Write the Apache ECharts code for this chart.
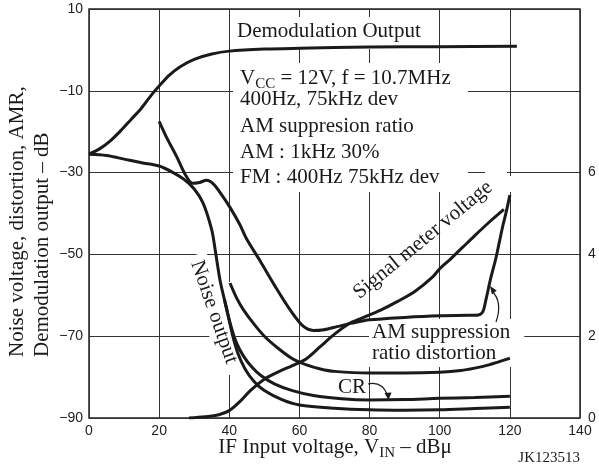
<!DOCTYPE html>
<html>
<head>
<meta charset="utf-8">
<script src="https://cdn.jsdelivr.net/npm/echarts@6.0.0/dist/echarts.min.js"></script>
<style>
html, body { margin: 0; padding: 0; background: #fff; }
#chart { width: 599px; height: 472px; }
</style>
</head>
<body>
<div id="chart"></div>
<script>
// x ticks / y ticks
var xTicks = [0, 20, 40, 60, 80, 100, 120, 140];
var yTicksLeft = [-90, -70, -50, -30, -10, 10];
var yTicksRight = [0, 2, 4, 6];

// Demodulation output (dB)
var demodX = [0, 3, 6, 9, 12, 15, 18, 20, 23, 26, 30, 35, 40, 50, 60, 80, 100, 122];
var demodY = [-25.5, -24.2, -22.3, -19.8, -17, -14.2, -10.8, -8.8, -6.1, -4.1, -2.3, -1.0, -0.3, 0.2, 0.4, 0.7, 0.8, 0.9];

// Noise output (dB)
var noiseX = [0, 5, 10, 15, 20, 24, 27, 30, 32.5, 35, 36, 37.4, 39.3, 41, 42.5, 44.5, 47, 50, 55, 60, 70, 80, 90, 100, 110, 120];
var noiseY = [-25.5, -25.8, -26.7, -27.6, -28.4, -30, -31.6, -34, -37.4, -44, -49, -56.5, -63.5, -70, -74.3, -78, -81, -83.3, -85.5, -86.8, -87.6, -88, -88.1, -88, -87.7, -87.4];

// CR (dB)
var crX = [38.6, 40.3, 42, 44, 46.5, 49, 53, 58, 64, 72, 80, 90, 100, 110, 120];
var crY = [-61, -67, -71.5, -74.8, -77.6, -79.6, -81.7, -83.3, -84.5, -85.3, -85.6, -85.5, -85.2, -85, -84.7];

// AM suppression ratio distortion (dB)
var distX = [40.2, 42, 44, 47, 50, 54, 58, 62, 66, 70, 80, 90, 100, 106, 110, 114, 117, 120];
var distY = [-57, -60.5, -63.5, -67, -70, -73, -75.5, -77, -78, -78.6, -79, -79, -78.8, -78.4, -77.8, -77, -76.2, -75.4];

// AM suppression ratio (dB)
var amX = [20, 22, 25, 27.4, 29.5, 31.5, 33.5, 35.5, 37.5, 40.2, 43, 45, 48.8, 53, 57.3, 61, 64, 67, 71, 75, 80, 90, 100, 108, 111, 112.3, 113.2, 114.5, 116, 117, 118, 119, 120];
var amY = [-17.5, -21.2, -26.1, -30.4, -32.6, -32.4, -31.9, -32.8, -35, -38.5, -42.7, -46.3, -51.6, -57.7, -63.5, -67.5, -68.6, -68.4, -67.6, -66.8, -66, -65.4, -65, -64.9, -64.8, -64, -61, -56, -51, -47, -43, -39.5, -35.5];

// Signal meter voltage (V, right axis)
var meterX = [28.5, 33, 37, 40, 43, 46, 50, 54, 58, 62, 66, 70, 74, 78, 83, 88, 93, 98, 100, 103, 106.5, 110, 114, 118.3];
var meterV = [0, 0.03, 0.08, 0.18, 0.4, 0.67, 0.95, 1.13, 1.28, 1.45, 1.75, 2.05, 2.3, 2.45, 2.63, 2.85, 3.1, 3.45, 3.65, 3.88, 4.17, 4.46, 4.78, 5.1];

function zip(xs, ys) {
    return xs.map(function (x, i) { return [x, ys[i]]; });
}

var serif = 'Liberation Serif';
var sans = 'Liberation Sans';
var ink = '#1a1a1a';

function curve(name, xs, ys, axis) {
    return {
        name: name,
        type: 'line',
        yAxisIndex: axis || 0,
        data: zip(xs, ys),
        symbol: 'none',
        smooth: 0.3,
        lineStyle: { color: ink, width: 3 },
        z: 3
    };
}

var chart = echarts.init(document.getElementById('chart'));

var option = {
    animation: false,
    backgroundColor: '#fff',
    grid: {
        left: 89, right: 19, top: 9, bottom: 54,
        show: true, borderColor: '#222', borderWidth: 1.5
    },
    xAxis: {
        type: 'value',
        min: xTicks[0], max: xTicks[xTicks.length - 1], interval: 20,
        axisLine: { show: false },
        axisTick: { show: false },
        axisLabel: { color: '#222', fontFamily: sans, fontSize: 14, margin: 6 },
        splitLine: { show: true, lineStyle: { color: '#333', width: 1 } }
    },
    yAxis: [
        {
            type: 'value', position: 'left',
            min: yTicksLeft[0], max: yTicksLeft[yTicksLeft.length - 1], interval: 20,
            axisLine: { show: false },
            axisTick: { show: false },
            axisLabel: {
                color: '#222', fontFamily: sans, fontSize: 14, margin: 6,
                formatter: function (v) { return String(v).replace('-', '\u2212'); }
            },
            splitLine: { show: true, lineStyle: { color: '#333', width: 1 } }
        },
        {
            type: 'value', position: 'right',
            min: 0, max: 10, interval: 2,
            axisLine: { show: false },
            axisTick: { show: false },
            axisLabel: {
                color: '#222', fontFamily: sans, fontSize: 14, margin: 8,
                formatter: function (v) { return yTicksRight.indexOf(v) >= 0 ? String(v) : ''; }
            },
            splitLine: { show: false }
        }
    ],
    series: [
        curve('Demodulation Output', demodX, demodY),
        curve('Noise output', noiseX, noiseY),
        curve('CR', crX, crY),
        curve('AM suppression ratio distortion', distX, distY),
        curve('AM suppression ratio', amX, amY),
        curve('Signal meter voltage', meterX, meterV, 1)
    ]
};
chart.setOption(option);

var txt = { fontFamily: serif, fontSize: 21, fill: ink };
function label(x, y, text, extra) {
    var style = Object.assign({ text: text, align: 'left', verticalAlign: 'middle' }, txt, extra || {});
    return { type: 'text', x: x, y: y, z: 2, style: style };
}
function mask(x, y, w, h) {
    return { type: 'rect', z: 1, shape: { x: x, y: y, width: w, height: h }, style: { fill: '#fff' } };
}
var subRich = {
    n: { fontFamily: serif, fontSize: 21, lineHeight: 24, verticalAlign: 'top', fill: ink },
    s: { fontFamily: serif, fontSize: 15, lineHeight: 15, verticalAlign: 'bottom', fill: ink }
};

chart.setOption({
    graphic: { elements: [
        // white boxes that break the grid behind the notes
        mask(233, 17, 197, 32),
        mask(233, 63, 235, 129),
        mask(224, 282, 10, 93),
        mask(485, 169, 22, 8),
        mask(507, 176, 6, 16),

        label(237, 31, 'Demodulation Output'),
        label(240, 80, '{n|V}{s|CC}{n| = 12V, f = 10.7MHz}', { rich: subRich }),
        label(240, 99, '400Hz, 75kHz dev'),
        label(240, 126, 'AM suppresion ratio'),
        label(240, 152.5, 'AM : 1kHz 30%'),
        label(240, 177, 'FM : 400Hz 75kHz dev'),

        { type: 'text', x: 214, y: 312, z: 2, rotation: -1.234,
          style: Object.assign({ text: 'Noise output', align: 'center', verticalAlign: 'middle',
                                 backgroundColor: '#fff', padding: [2, 6] }, txt) },
        { type: 'text', x: 423, y: 240, z: 2, rotation: 0.69,
          style: Object.assign({ text: 'Signal meter voltage', align: 'center', verticalAlign: 'middle' }, txt) },

        label(369, 343, 'AM suppression\nratio distortion',
              { lineHeight: 21, backgroundColor: '#fff', padding: [3, 14, 3, 3] }),
        label(335, 387, 'CR', { backgroundColor: '#fff', padding: [1, 3] }),

        // arrows
        { type: 'bezierCurve', z: 2, shape: { x1: 496, y1: 322, cpx1: 503, cpy1: 302, x2: 492, y2: 291 },
          style: { stroke: ink, lineWidth: 1.2, fill: null } },
        { type: 'polygon', z: 2, shape: { points: [[490, 286], [496.7, 290.6], [491.9, 294.4]] },
          style: { fill: ink } },
        { type: 'bezierCurve', z: 2, shape: { x1: 368, y1: 384, cpx1: 382, cpy1: 381, x2: 387.5, y2: 395 },
          style: { stroke: ink, lineWidth: 1.2, fill: null } },
        { type: 'polygon', z: 2, shape: { points: [[388.5, 400], [384.5, 393], [391.5, 392.5]] },
          style: { fill: ink } },

        // axis names
        { type: 'text', x: 335, y: 449, z: 2,
          style: { text: '{n|IF Input voltage, V}{s|IN}{n| \u2013 dB\u03bc}', rich: subRich,
                   align: 'center', verticalAlign: 'middle' } },
        { type: 'text', x: 29.5, y: 357, z: 2, rotation: Math.PI / 2,
          style: Object.assign({ text: 'Noise voltage, distortion, AMR,\nDemodulation output \u2013 dB',
                                 align: 'left', verticalAlign: 'middle', lineHeight: 25 }, txt) },

        label(580, 458, 'JK123513', { align: 'right', fontSize: 15 })
    ] }
});
</script>
</body>
</html>
